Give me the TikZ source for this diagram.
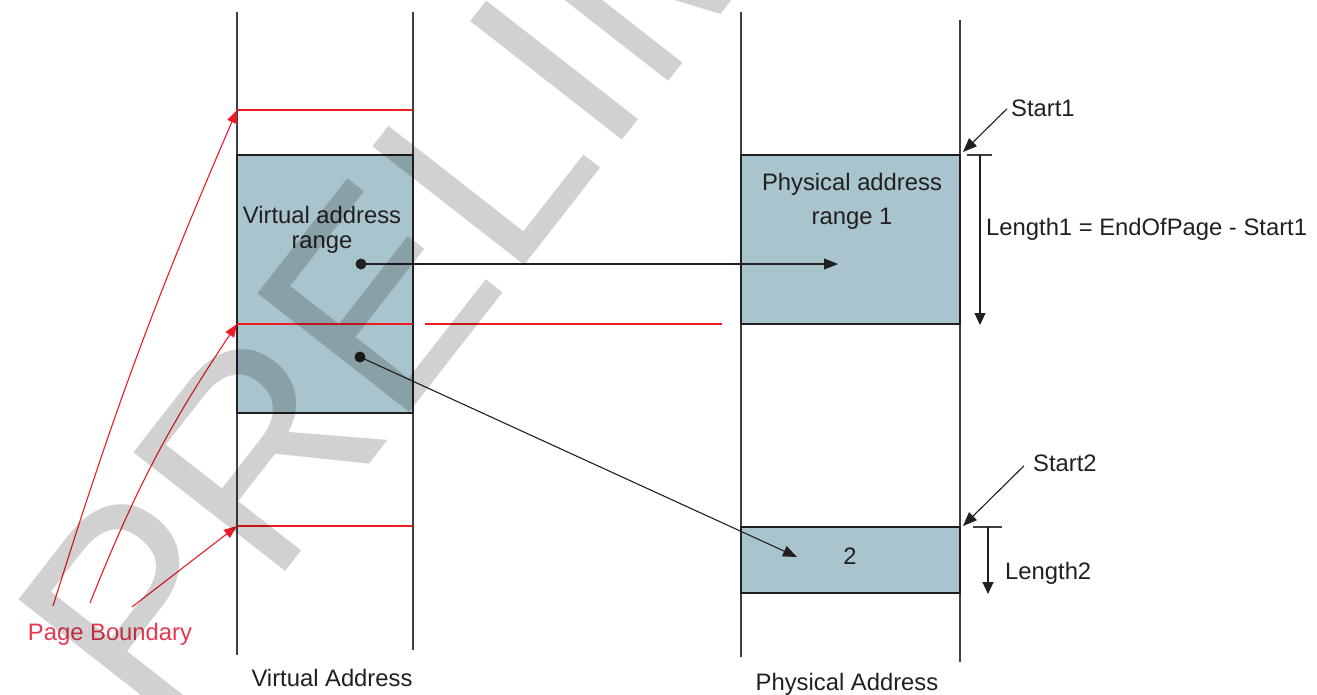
\documentclass[tikz,border=0pt]{standalone}
\usepackage{fontspec}
\setmainfont{Liberation Sans}
\usepackage{tikz}
\usetikzlibrary{arrows.meta,positioning,calc}
\definecolor{rangefill}{RGB}{168,196,204}
\definecolor{pagered}{RGB}{237,28,36}
\definecolor{labelred}{RGB}{232,56,80}
\definecolor{ink}{RGB}{35,31,32}
\definecolor{railgray}{RGB}{64,64,64}
\tikzset{
  rail/.style={draw=railgray,line width=1.3pt},
  rangebox/.style={rectangle,draw=ink,fill=rangefill,line width=1.8pt,
    inner sep=0pt,outer sep=0pt},
  pageline/.style={draw=pagered,line width=1.2pt},
  pagearrow/.style={-{Triangle[length=13pt,width=10pt]},draw=pagered,line width=1.1pt},
  maplink/.style={-{Triangle[length=14pt,width=11pt]},draw=ink,line width=1.1pt},
  dimarrow/.style={-{Triangle[length=12pt,width=11pt]},draw=ink,line width=1.1pt},
  pindot/.style={circle,fill=ink,inner sep=0pt,minimum size=11pt},
  lbl/.style={font=\fontsize{23.8}{25}\selectfont,text=ink,inner sep=0pt},
  watermark/.style={font=\fontsize{280}{280}\selectfont,text=black,text opacity=0.18,
    inner sep=0pt,anchor=base west,rotate=52},
}

\begin{document}
\begin{tikzpicture}[x=1pt,y=-1pt]
  \useasboundingbox (0,0) rectangle (1317,694);

  % Virtual address rails
  \draw[rail] (237,12) -- (237,655);
  \draw[rail] (413,12) -- (413,650);

  % Physical address rails
  \draw[rail] (741,12) -- (741,657);
  \draw[rail] (960,20) -- (960,662);

  % Address ranges
  \node[rangebox,minimum width=176pt,minimum height=258pt] (vrange) at (325,284) {};
  \node[rangebox,minimum width=219pt,minimum height=169pt] (prange1) at (850.5,239.5) {};
  \node[rangebox,minimum width=219pt,minimum height=66pt] (prange2) at (850.5,560) {};

  % Page boundaries
  \coordinate (pb1) at (237,110);
  \coordinate (pb2) at (237,324);
  \coordinate (pb3) at (237,526);
  \draw[pageline] (pb1) -- (413,110);
  \draw[pageline] (pb2) -- (413,324);
  \draw[pageline] (425,324) -- (722,324);
  \draw[pageline] (pb3) -- (413,526);

  % Range texts (base = last line)
  \node[lbl,align=center,anchor=base] (vtext) at (322,248) {Virtual address\\range};
  \node[lbl,align=center,anchor=base,font=\fontsize{23.8}{34}\selectfont]
    (ptext1) at (852,224) {Physical address\\range 1};
  \node[lbl,anchor=base] (ptext2) at (850,564) {2};

  % Mapping arrows
  \node[pindot] (vdot1) at (361,264) {};
  \node[pindot] (vdot2) at (360,357) {};
  \coordinate (ptip1) at (838,264);
  \coordinate (ptip2) at (797,557);
  \draw[maplink] (vdot1.center) -- (ptip1);
  \draw[maplink] (vdot2.center) -- (ptip2);

  % Page Boundary label and arrows
  \node[lbl,text=labelred,anchor=base] (pagebnd) at (110,640) {Page Boundary};
  \coordinate (pbtail1) at (53,606);
  \coordinate (pbtail2) at (90,603);
  \coordinate (pbtail3) at (132,607);
  \draw[pagearrow] (pbtail1) to[bend left=3] (pb1);
  \draw[pagearrow] (pbtail2) to[bend left=6] (pb2);
  \draw[pagearrow] (pbtail3) -- (pb3);

  % Start1 / Length1
  \node[lbl,anchor=base west] (start1) at (1011,116) {Start1};
  \coordinate (s1tip) at (963,152);
  \draw[maplink] ($(start1.west)+(-4,1)$) -- (s1tip);
  \draw[rail] (967,155) -- (992,155);
  \coordinate (len1top) at (980,155);
  \coordinate (len1end) at (980,325);
  \draw[dimarrow] (len1top) -- (len1end);
  \node[lbl,anchor=base west] (len1) at (986,235) {Length1 = EndOfPage - Start1};

  % Start2 / Length2
  \node[lbl,anchor=base west] (start2) at (1033,471) {Start2};
  \coordinate (s2tip) at (963,526);
  \draw[maplink] ($(start2.west)+(-9,3)$) -- (s2tip);
  \draw[rail] (973,527) -- (1002,527);
  \coordinate (len2top) at (988,527);
  \coordinate (len2end) at (988,594);
  \draw[dimarrow] (len2top) -- (len2end);
  \node[lbl,anchor=base west] (len2) at (1005,579) {Length2};

  % Axis captions
  \node[lbl,anchor=base] (vaddr) at (332,686) {Virtual Address};
  \node[lbl,anchor=base] (paddr) at (847,690) {Physical Address};

  % Watermark
  \begin{scope}
    \clip (0,0) rectangle (1317,694);
    \node[watermark] (wmark) at (156,737) {PRELIMINARY};
  \end{scope}
\end{tikzpicture}
\end{document}
